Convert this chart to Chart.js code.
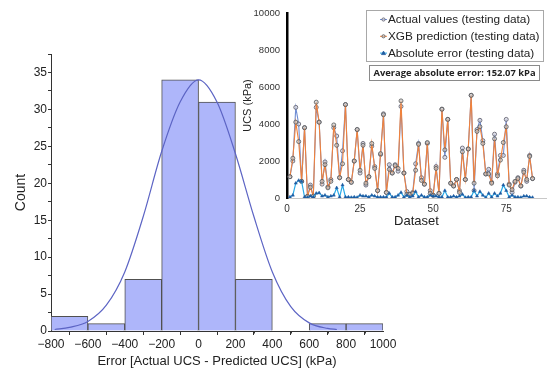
<!DOCTYPE html>
<html><head><meta charset="utf-8">
<script src="https://cdn.jsdelivr.net/npm/chart.js@4.4.1/dist/chart.umd.min.js"></script>
<style>
html,body{margin:0;padding:0;background:#fff;}
#wrap{position:relative;width:553px;height:374px;overflow:hidden;background:#fff;}
#main{position:absolute;left:0;top:0;}
#inset{position:absolute;left:240px;top:0;}
</style></head><body>
<div id="wrap"><canvas id="main" width="553" height="374"></canvas><canvas id="inset" width="313" height="232"></canvas></div>
<script>
// ---- Histogram of errors ----
const binCenters = [-700, -500, -300, -100, 100, 300, 500, 700, 900];
const binCounts  = [2, 1, 7, 34, 31, 7, 0, 1, 1];
const histXTicks = [-800, -600, -400, -200, 0, 200, 400, 600, 800, 1000];
const histXMinorTicks = [-700, -500, -300, -100, 100, 300, 500, 700, 900];
// normal-fit curve
const curveX = [-780, -700, -600, -500, -400, -300, -200, -100, 0, 100, 200, 300, 400, 500, 600, 700, 750];
const curveY = [0.2, 0.5, 1.3, 3.5, 8, 15.5, 24.3, 31, 34, 31, 24, 15.5, 8, 3.3, 1.1, 0.35, 0.2];
const histXTitle = 'Error [Actual UCS - Predicted UCS] (kPa)';
const histYTitle = 'Count';

// ---- Inset: testing data ----
const sampleIndex = Array.from({length: 84}, (_, i) => i + 1);
const actualValues = [1150,2000,4900,4000,900,3800,100,700,100,4900,4100,750,1950,600,1000,3800,3350,1100,2550,5050,
  1000,850,2000,3700,1350,2950,700,1150,2800,1700,400,2350,4550,300,1800,1350,1800,1450,4950,1350,
  350,200,300,1850,2950,1100,750,2950,400,150,1700,250,4800,2200,4250,800,650,1000,400,2700,
  1000,2650,5550,400,3700,4200,3100,1300,1550,850,3450,1300,2300,2300,4250,750,300,850,1100,650,
  1500,900,2300,1050];
const xgbPrediction = [1150,2150,4100,3050,900,3800,80,580,100,5180,4100,900,1800,550,900,3950,2850,1100,1850,5050,
  1000,850,2000,3700,1500,2850,800,1150,2950,1600,400,2400,4500,300,1550,1350,1750,1600,5250,1350,
  200,200,250,1500,2900,950,750,3000,250,150,1600,250,4800,2600,4250,800,650,1000,300,2500,
  1000,2650,5550,800,3600,3850,2950,1300,1300,800,3200,1200,2050,3000,3850,700,450,900,1050,650,
  1400,1000,2250,1050];
const absoluteError = [50,150,800,950,900,50,30,100,50,250,280,100,150,50,100,150,550,50,700,50,
  50,30,50,30,150,100,100,50,150,100,50,50,50,50,250,50,50,150,300,50,
  150,50,100,350,50,150,50,50,150,100,100,50,50,400,50,50,100,50,100,200,
  30,50,50,400,100,350,150,30,250,50,250,100,250,700,400,50,150,50,50,30,
  100,100,50,30];
const seriesNames = ['Actual values (testing data)', 'XGB prediction (testing data)', 'Absolute error (testing data)'];
const avgAbsError = 152.07;
const insetYTicks = [0, 2000, 4000, 6000, 8000, 10000];
const insetXTicks = [0, 25, 50, 75];

const fmtMinus = v => v < 0 ? '\u2212' + Math.abs(v) : String(v);
const AR = '"Liberation Sans", Arial, sans-serif';

const minorTicks = {
  id: 'minorTicks',
  afterDraw(chart) {
    const s = chart.scales.x, ctx = chart.ctx;
    ctx.save();
    ctx.strokeStyle = '#333'; ctx.lineWidth = 1;
    histXMinorTicks.forEach(v => {
      const px = Math.round(s.getPixelForValue(v)) + 0.5;
      ctx.beginPath(); ctx.moveTo(px, s.top); ctx.lineTo(px, s.top + 2.5); ctx.stroke();
    });
    ctx.restore();
  }
};

new Chart(document.getElementById('main'), {
  type: 'bar',
  data: {
    datasets: [
      { type: 'line', label: 'Normal fit', data: curveX.map((x, i) => ({x, y: curveY[i]})),
        borderColor: 'rgb(92,100,196)', borderWidth: 1.2, pointRadius: 0, fill: false,
        cubicInterpolationMode: 'monotone', order: 0 },
      { type: 'bar', label: histYTitle, data: binCenters.map((x, i) => ({x, y: binCounts[i]})),
        backgroundColor: 'rgb(174,182,250)', borderColor: '#505050', borderWidth: 1,
        barPercentage: 1, categoryPercentage: 1, order: 1 }
    ]
  },
  options: {
    responsive: false, animation: false,
    layout: {padding: {top: 54, right: 170, left: 0, bottom: 0}},
    plugins: {legend: {display: false}, tooltip: {enabled: false}},
    scales: {
      x: {
        type: 'linear', min: -800, max: 1000, offset: false,
        afterFit: s => { s.height = 43; },
        afterBuildTicks: s => { s.ticks = histXTicks.map(v => ({value: v})); },
        ticks: {autoSkip: false, maxRotation: 0, padding: 2, color: '#222',
          font: {family: AR, size: 12}, callback: v => fmtMinus(v)},
        grid: {drawOnChartArea: false, tickLength: 4, tickColor: '#333'},
        border: {color: '#333', width: 1},
        title: {display: true, text: histXTitle, color: '#222', font: {family: AR, size: 13}, padding: {top: 0, bottom: 5}}
      },
      y: {
        min: 0, max: 37.5,
        afterFit: s => { s.width = 51; },
        ticks: {stepSize: 2.5, autoSkip: false, padding: 1, color: '#222',
          font: {family: AR, size: 12}, callback: v => (v % 5 === 0 ? String(v) : '')},
        grid: {drawOnChartArea: false, tickLength: 3, tickColor: '#333'},
        border: {color: '#333', width: 1},
        title: {display: true, text: histYTitle, color: '#222', font: {family: AR, size: 14}, padding: {top: 13, bottom: 0}}
      }
    }
  },
  plugins: [minorTicks]
});

const insetLegend = {
  id: 'insetLegend',
  afterDraw(chart) {
    const ctx = chart.ctx;
    ctx.save();
    ctx.strokeStyle = '#a8a8a8'; ctx.lineWidth = 1;
    ctx.strokeRect(126.5, 10.5, 177, 51);
    [0, 1, 2].forEach((di, k) => {
      const ds = chart.data.datasets[di];
      const y = 19.5 + k * 16.8;
      ctx.strokeStyle = ds.borderColor; ctx.lineWidth = 1;
      ctx.beginPath(); ctx.moveTo(140, y); ctx.lineTo(147, y); ctx.stroke();
      ctx.fillStyle = ds.pointBackgroundColor; ctx.strokeStyle = ds.pointBorderColor; ctx.lineWidth = 0.8;
      ctx.beginPath();
      if (ds.pointStyle === 'triangle') { ctx.moveTo(143.5, y - 2); ctx.lineTo(145.5, y + 1.5); ctx.lineTo(141.5, y + 1.5); ctx.closePath(); }
      else ctx.arc(143.5, y, 1.6, 0, Math.PI * 2);
      ctx.fill(); ctx.stroke();
      ctx.fillStyle = '#222'; ctx.font = '11.8px ' + AR; ctx.textBaseline = 'middle'; ctx.textAlign = 'left';
      ctx.fillText(ds.label, 148, y + 0.5);
    });
    ctx.strokeStyle = '#8a8a8a'; ctx.lineWidth = 1;
    ctx.strokeRect(129.5, 65.5, 170, 15);
    ctx.fillStyle = '#222'; ctx.font = 'bold 9.4px "Open Sans", sans-serif'; ctx.textAlign = 'center'; ctx.textBaseline = 'middle';
    ctx.fillText('Average absolute error: ' + avgAbsError.toFixed(2) + ' kPa', 214.5, 73.5);
    ctx.restore();
  }
};

new Chart(document.getElementById('inset'), {
  type: 'line',
  data: {
    datasets: [
      { label: seriesNames[0], data: sampleIndex.map((x, i) => ({x, y: actualValues[i]})),
        borderColor: 'rgb(112,142,212)', borderWidth: 1.1, pointRadius: 2, pointBorderWidth: 0.8,
        pointBackgroundColor: 'rgba(215,215,225,0.7)', pointBorderColor: '#5a5a6a', order: 2 },
      { label: seriesNames[1], data: sampleIndex.map((x, i) => ({x, y: xgbPrediction[i]})),
        borderColor: 'rgb(240,130,60)', borderWidth: 1.1, pointRadius: 2, pointBorderWidth: 0.8,
        pointBackgroundColor: 'rgba(200,200,200,0.6)', pointBorderColor: '#555', order: 1 },
      { label: seriesNames[2], data: sampleIndex.map((x, i) => ({x, y: absoluteError[i]})),
        borderColor: 'rgb(40,168,230)', borderWidth: 1.2, pointRadius: 1.8, pointStyle: 'triangle',
        pointBackgroundColor: 'rgb(30,90,160)', pointBorderColor: 'rgb(30,90,160)', pointBorderWidth: 0.5, order: 0 }
    ]
  },
  options: {
    responsive: false, animation: false,
    layout: {padding: {top: 13, right: 7, left: 0, bottom: 0}},
    plugins: {legend: {display: false}, tooltip: {enabled: false}},
    scales: {
      x: {
        type: 'linear', min: 0, max: 88.6,
        afterFit: s => { s.height = 34; },
        afterBuildTicks: s => { s.ticks = insetXTicks.map(v => ({value: v})); },
        ticks: {autoSkip: false, maxRotation: 0, padding: 5, color: '#333', font: {family: AR, size: 10},
          callback: v => String(v)},
        grid: {display: true, drawOnChartArea: false, drawTicks: false},
        border: {color: '#c8c8c8', width: 1},
        title: {display: true, text: 'Dataset', color: '#222', font: {family: AR, size: 13}, padding: {top: 0, bottom: 3}}
      },
      y: {
        min: 0, max: 10000,
        afterFit: s => { s.width = 47; },
        afterBuildTicks: s => { s.ticks = insetYTicks.map(v => ({value: v})); },
        ticks: {autoSkip: false, padding: 7, color: '#333', font: {family: AR, size: 9.5},
          callback: v => String(v)},
        grid: {display: true, drawOnChartArea: false, drawTicks: false},
        border: {color: '#000', width: 2.5},
        title: {display: true, text: 'UCS (kPa)', color: '#222', font: {family: AR, size: 11}, padding: {top: 1, bottom: 0}}
      }
    }
  },
  plugins: [insetLegend]
});
</script>
</body></html>
